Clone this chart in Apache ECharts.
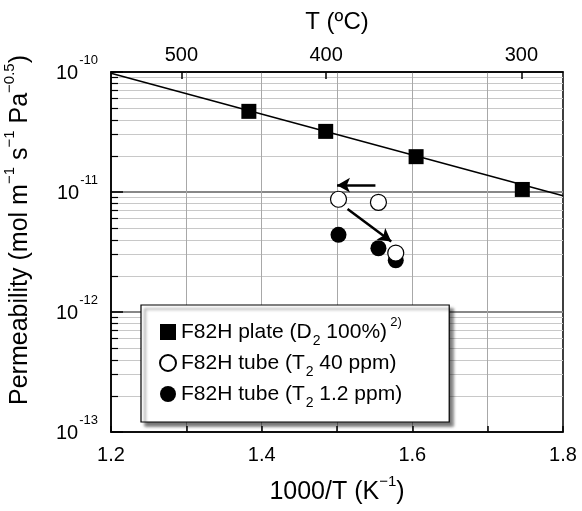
<!DOCTYPE html>
<html>
<head>
<meta charset="utf-8">
<script src="https://cdn.jsdelivr.net/npm/echarts@6/dist/echarts.min.js"></script>
<style>
  html, body { margin: 0; padding: 0; background: #fff; }
  #chart { width: 582px; height: 511px; }
</style>
</head>
<body>
<div id="chart"></div>
<script>
// data
const plateX = [1.383, 1.485, 1.605, 1.746];
const plateY = [4.7e-11, 3.2e-11, 1.97e-11, 1.05e-11];
const tube40X = [1.502, 1.555, 1.578];
const tube40Y = [8.7e-12, 8.2e-12, 3.1e-12];
const tube12X = [1.502, 1.555, 1.578];
const tube12Y = [4.4e-12, 3.4e-12, 2.7e-12];
const fitX = [1.2, 1.8];
const fitY = [9.75e-11, 9.3e-12];
// arrows: [x0, y0, x1, y1]
const arrows = [
  [1.551, 1.14e-11, 1.500, 1.14e-11],
  [1.514, 7.2e-12, 1.572, 3.86e-12]
];
// tick labels
const topTemps = [500, 400, 300];
const decades = [1e-13, 1e-12, 1e-11, 1e-10];
const minorMult = [2, 3, 4, 5, 6, 7, 8, 9];

const topTickPos = topTemps.map(t => 1000 / (t + 273.15));
const minorVals = [];
decades.slice(0, 3).forEach(d => minorMult.forEach(m => minorVals.push(m * d)));

const FONT = 'Liberation Sans, Arial, sans-serif';
const legendNames = {
  plate: '{n|F82H plate (D}{sub|2}{n| 100%)} {sup|2)}',
  tube40: '{n|F82H tube (T}{sub|2}{n| 40 ppm)}',
  tube12: '{n|F82H tube (T}{sub|2}{n| 1.2 ppm)}'
};

const chart = echarts.init(document.getElementById('chart'));
chart.setOption({
  animation: false,
  backgroundColor: '#fff',
  textStyle: { fontFamily: FONT, color: '#000' },
  grid: {
    left: 111, right: 19, top: 72, bottom: 79,
    outerBoundsMode: 'none', containLabel: false,
    show: true, borderColor: '#000', borderWidth: 1.5, backgroundColor: 'transparent'
  },
  legend: {
    orient: 'vertical',
    left: 141, top: 305,
    padding: [11, 47, 12, 18],
    itemGap: 5,
    itemWidth: 16, itemHeight: 16,
    backgroundColor: '#fff',
    borderColor: '#000', borderWidth: 1.2,
    shadowColor: 'rgba(0,0,0,0.55)', shadowBlur: 3, shadowOffsetX: 4, shadowOffsetY: 4,
    data: [
      { name: 'plate', icon: 'rect' },
      { name: 'tube40', icon: 'circle' },
      { name: 'tube12', icon: 'circle' }
    ],
    formatter: name => legendNames[name],
    textStyle: {
      rich: {
        n: { fontSize: 21, fontFamily: FONT, color: '#000', lineHeight: 22, verticalAlign: 'bottom' },
        sub: { fontSize: 14, fontFamily: FONT, color: '#000', lineHeight: 22, verticalAlign: 'bottom', padding: [0, 0, -5, 1] },
        sup: { fontSize: 13, fontFamily: FONT, color: '#000', lineHeight: 22, verticalAlign: 'top', padding: [-5, 0, 0, 0] }
      }
    }
  },
  xAxis: [
    {
      type: 'value', position: 'bottom',
      min: 1.2, max: 1.8, interval: 0.1,
      name: '{n|1000/T (K}{sup|−1}{n|)}',
      nameLocation: 'middle', nameGap: 45,
      nameTextStyle: {
        rich: {
          n: { fontSize: 25, fontFamily: FONT, color: '#000', lineHeight: 28, verticalAlign: 'bottom' },
          sup: { fontSize: 15, fontFamily: FONT, color: '#000', lineHeight: 28, verticalAlign: 'top', padding: [-3, 0, 0, 0] }
        }
      },
      axisLine: { show: true, lineStyle: { color: '#000', width: 1.5 } },
      axisTick: { inside: true, length: 6, lineStyle: { color: '#000', width: 1.5 } },
      axisLabel: {
        fontSize: 20, margin: 13, color: '#000',
        formatter: v => (Math.round(v * 10) % 2 === 0 ? v.toFixed(1) : '')
      },
      splitLine: { show: true, showMinLine: false, showMaxLine: false, lineStyle: { color: '#a8a8a8', width: 1 } }
    },
    {
      type: 'value', position: 'top',
      min: 1.2, max: 1.8,
      name: 'T (ºC)',
      nameLocation: 'middle', nameGap: 38,
      nameTextStyle: { fontSize: 24, color: '#000' },
      axisLine: { show: true, lineStyle: { color: '#000', width: 1.5 } },
      axisTick: { inside: true, length: 7, customValues: topTickPos, lineStyle: { color: '#000', width: 1.5 } },
      axisLabel: {
        fontSize: 20, margin: 7, color: '#000', customValues: topTickPos,
        formatter: v => String(Math.round((1000 / v - 273.15) / 10) * 10)
      },
      splitLine: { show: false }
    }
  ],
  yAxis: [
    {
      type: 'log', logBase: 10,
      min: 1e-13, max: 1e-10,
      name: '{n|Permeability (mol m}{sup|−1}{n| s}{sup|−1}{n| Pa}{sup|−0.5}{n|)}',
      nameLocation: 'middle', nameGap: 78, nameRotate: 90,
      nameTextStyle: {
        padding: [0, 0, 0, 44],
        rich: {
          n: { fontSize: 25, fontFamily: FONT, color: '#000', lineHeight: 28, verticalAlign: 'bottom' },
          sup: { fontSize: 15, fontFamily: FONT, color: '#000', lineHeight: 28, verticalAlign: 'top', padding: [-3, 0, 0, 0] }
        }
      },
      axisLine: { show: true, lineStyle: { color: '#000', width: 1.5 } },
      axisTick: { inside: true, length: 12, lineStyle: { color: '#000', width: 1.5 } },
      axisLabel: {
        margin: 13,
        formatter: v => '{b|10}{s|-' + (-Math.round(Math.log10(v))) + '}',
        rich: {
          b: { fontSize: 20, fontFamily: FONT, color: '#000', lineHeight: 22, verticalAlign: 'bottom' },
          s: { fontSize: 13, fontFamily: FONT, color: '#000', lineHeight: 22, verticalAlign: 'top', padding: [-7, 0, 0, 1] }
        }
      },
      splitLine: { show: true, showMinLine: false, showMaxLine: false, lineStyle: { color: '#888', width: 2 } }
    },
    {
      type: 'log', logBase: 10,
      min: 1e-13, max: 1e-10,
      position: 'left',
      axisLine: { show: false },
      axisTick: { inside: true, length: 7, customValues: minorVals, lineStyle: { color: '#000', width: 1.2 } },
      axisLabel: { show: false },
      splitLine: { show: true, lineStyle: { color: '#c8c8c8', width: 1 } }
    }
  ],
  series: [
    {
      name: 'fit', type: 'line',
      data: fitX.map((x, i) => [x, fitY[i]]),
      showSymbol: false, silent: true,
      lineStyle: { color: '#000', width: 1.5 },
      markLine: {
        silent: true,
        symbol: ['none', 'arrow'], symbolSize: [11, 13],
        label: { show: false },
        lineStyle: { color: '#000', width: 2.5, type: 'solid' },
        data: arrows.map(a => [{ coord: [a[0], a[1]] }, { coord: [a[2], a[3]] }])
      }
    },
    {
      name: 'plate', type: 'scatter',
      data: plateX.map((x, i) => [x, plateY[i]]),
      symbol: 'rect', symbolSize: 15,
      itemStyle: { color: '#000', opacity: 1 }
    },
    {
      name: 'tube12', type: 'scatter',
      data: tube12X.map((x, i) => [x, tube12Y[i]]),
      symbol: 'circle', symbolSize: 16,
      itemStyle: { color: '#000', opacity: 1 }
    },
    {
      name: 'tube40', type: 'scatter',
      data: tube40X.map((x, i) => [x, tube40Y[i]]),
      symbol: 'circle', symbolSize: 16,
      itemStyle: { color: '#fff', borderColor: '#000', borderWidth: 1.2, opacity: 1 }
    }
  ]
});
</script>
</body>
</html>
